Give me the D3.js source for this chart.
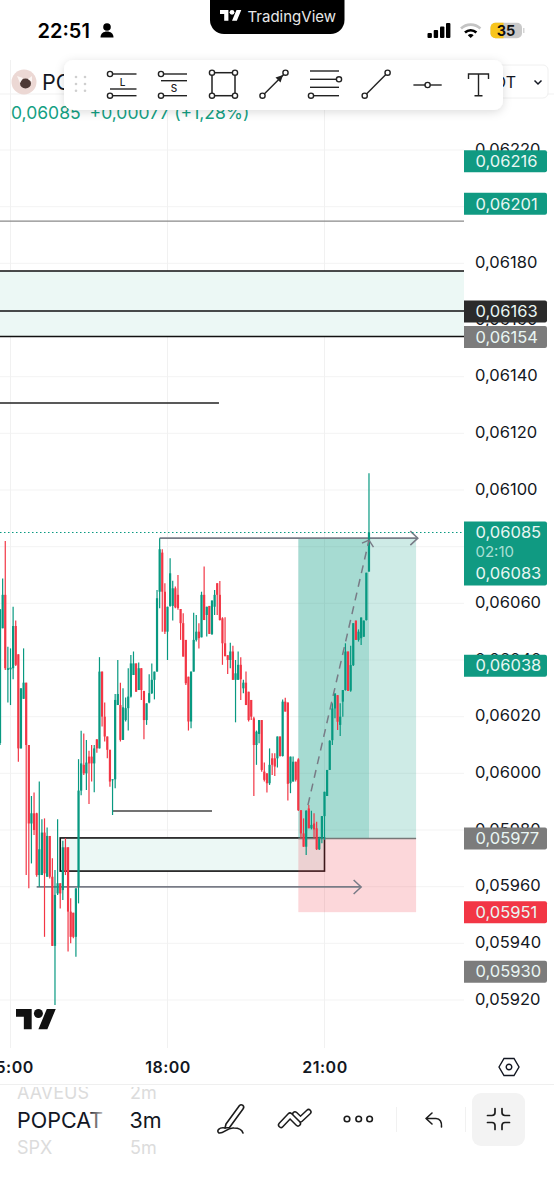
<!DOCTYPE html>
<html lang="en">

<head>
	<meta charset="utf-8">
	<title>POPCAT 3m</title>
	<script src="https://d3js.org/d3.v7.min.js"></script>
	<style>
		html, body { margin: 0; padding: 0; background: #fff; }
		svg { display: block; font-family: Inter, "Noto Sans", sans-serif; }
	</style>
</head>

<body>
	<div id="chart"></div>
	<script>
		// candles, price x 100000, first bar is 14:48, one bar every 3 minutes
		var opens = [
			6010, 6050.5, 6062.3, 6035.8, 6036, 6036.4, 6051.3, 6041.3, 6008.1, 6025.6,
			6031.3, 6009.3, 5981.6, 5985.2, 5985.2, 5963.4, 5963.4, 5978.4, 5962.8, 5977.2,
			5962.8, 5938.4, 5956.9, 5960.5, 5958.1, 5973.2, 5973.2, 5950.5, 5950.1, 5941.6,
			5959.3, 5993.2, 6002.3, 5999.3, 6005.2, 6005.2, 6002.8, 6011.3, 6008.1, 6035.2,
			6019.3, 6012.3, 6007.6, 5996.9, 5997.2, 6023.4, 6023.4, 6011.1, 6018.1, 6022.3,
			6026.4, 6034, 6038.1, 6028.7, 6036.4, 6028.4, 6018.1, 6024.3, 6027.6, 6032.3,
			6035.2, 6063.4, 6077.2, 6063.4, 6049.3, 6058.4, 6058.4, 6064.6, 6062.3, 6057.3,
			6052.3, 6046.4, 6033.4, 6017.6, 6035.2, 6046.4, 6049.3, 6047.3, 6062.3, 6055.2,
			6058.4, 6048.5, 6058.1, 6066.4, 6062.3, 6054, 6045.2, 6041, 6039.3, 6042.3,
			6032.3, 6032.3, 6037.6, 6029.3, 6031.3, 6028.1, 6025.2, 6018.7, 6009.3, 6013.2,
			6018.1, 5999.9, 5999.3, 5995.8, 6004.6, 6004.6, 6004.6, 6012.3, 6005.4, 6024.6,
			6024.3, 5995.8, 5996.4, 6003.4, 6004.2, 5986.3, 5978.1, 5973.4, 5986.9, 5979.9,
			5981.6, 5979.9, 5972.5, 5976.3, 5984.2, 5991.3, 6000.5, 6011, 6022.2, 6026.9,
			6016.4, 6024.6, 6028.7, 6042.3, 6028.5, 6037.5, 6053.2, 6046.4, 6047, 6047.5,
			6053.4, 6070.5
		];
		var highs = [
			6057.2, 6068.1, 6081.3, 6044, 6043.4, 6058.1, 6053.2, 6041.3, 6029.3, 6043.4,
			6031.3, 6009.3, 5991.3, 5992.5, 5985.4, 5996.4, 5983.1, 5983.4, 5980.2, 5977.2,
			5969.3, 5965.2, 5983.1, 5960.5, 5975.5, 5976.4, 5973.2, 5955.2, 5950.1, 5958.7,
			6004.3, 6014.3, 6013.4, 6011.1, 6007.3, 6009.3, 6009.3, 6011.3, 6040.3, 6035.2,
			6024.3, 6012.3, 6007.6, 5997.2, 6027.3, 6039.3, 6031.3, 6029.3, 6026.1, 6036.4,
			6041.1, 6042.3, 6038.1, 6038.4, 6036.4, 6028.4, 6024, 6034.3, 6038.1, 6035.2,
			6064, 6082.3, 6078.4, 6066.4, 6058.1, 6075.2, 6067.3, 6065.2, 6069.3, 6057.3,
			6055.8, 6046.4, 6033.4, 6035.2, 6056, 6055.2, 6052.3, 6063.4, 6072.3, 6058.1,
			6058.4, 6060.3, 6064, 6066.4, 6067.2, 6054.4, 6054.4, 6041, 6045.4, 6044.3,
			6039.3, 6042.3, 6040.3, 6032.3, 6035.2, 6028.1, 6025.2, 6019.3, 6014.4, 6018.1,
			6018.1, 6003.1, 5999.3, 6008.1, 6006.4, 6006.4, 6012.3, 6012.3, 6025.4, 6026,
			6024.3, 6005.2, 6005.2, 6003.4, 6004.6, 5986.3, 5983.4, 5986.3, 5988.1, 5986.1,
			5985.2, 5982.2, 5976.9, 5984.2, 5992.8, 6000.5, 6011, 6024, 6027.5, 6026.9,
			6024, 6028.7, 6045.2, 6042.3, 6044.3, 6052.3, 6053.2, 6050.1, 6054.3, 6053.2,
			6070.1, 6105.2
		];
		var lows = [
			6009.3, 6050.5, 6035.8, 6024.3, 6023.4, 6032.5, 6037.2, 6003.4, 6008.1, 6025.6,
			5963.4, 5958.7, 5967.5, 5977.5, 5962.8, 5959.3, 5963.4, 5941.6, 5962.8, 5962.2,
			5938.4, 5917.5, 5956.4, 5951.6, 5954.6, 5963.4, 5936.4, 5939.3, 5941.1, 5934.6,
			5953.4, 5991.6, 5998.7, 5993.4, 5988.5, 5996.4, 5992.6, 6006.6, 6008.1, 6015.8,
			6010.5, 6004.6, 5994.6, 5984.6, 5994, 6023.4, 6010.5, 6011.1, 6017.6, 6014.4,
			6026.1, 6034, 6028.1, 6028.7, 6025.2, 6011.3, 6016.4, 6024, 6027.3, 6025.4,
			6035.2, 6057.6, 6049.3, 6048.5, 6039.3, 6058.1, 6053.2, 6057.6, 6057, 6046.4,
			6040.5, 6030.5, 6014.4, 6015.2, 6035.2, 6045.8, 6043.4, 6047.3, 6053.4, 6047.6,
			6048.5, 6048.1, 6055.2, 6055.2, 6053.2, 6037.6, 6040.5, 6034.4, 6036.4, 6032.3,
			6017.3, 6032.3, 6025.2, 6027.6, 6023.4, 6017.6, 6018.1, 5991.3, 6002.3, 6009.9,
			5999.9, 5996.4, 5992.5, 5995.2, 5998.7, 5998.4, 6001.4, 6005.2, 6005.2, 6021.1,
			5989.7, 5992.3, 5996.4, 5996.4, 5986, 5976.3, 5973.4, 5970.5, 5979.9, 5979.5,
			5976.3, 5972.2, 5972.2, 5974.6, 5975.8, 5991.3, 6000.5, 6009.3, 6018.7, 6014.6,
			6012.5, 6019.3, 6028.5, 6028.4, 6028.1, 6037.2, 6046.4, 6045.8, 6044.6, 6047.5,
			6053.2, 6070.5
		];
		var closes = [
			6057.2, 6062.3, 6036.4, 6036.4, 6036.6, 6051.3, 6037.6, 6008.1, 6029.3, 6031.3,
			6009.3, 5981.6, 5985.2, 5979.3, 5963.4, 5972.5, 5978.4, 5964, 5977.2, 5962.8,
			5938.4, 5956.4, 5960.5, 5956.9, 5973.2, 5964.6, 5950.5, 5941.6, 5941.6, 5958.7,
			5993.2, 6002.8, 5999.3, 6003.1, 6002.8, 6002.8, 6008.1, 6008.1, 6035.2, 6019.3,
			6012.3, 6007.6, 5996.4, 5997.2, 6025.2, 6027.3, 6011.1, 6022.6, 6022.3, 6026.4,
			6038.1, 6038.1, 6028.1, 6036.4, 6028.7, 6018.1, 6024, 6027.6, 6032.3, 6035.2,
			6061.1, 6078.4, 6063.4, 6049.3, 6058.1, 6069.9, 6064.6, 6057.9, 6057.6, 6052.3,
			6040.5, 6031.1, 6017.6, 6035.2, 6046.4, 6049.3, 6047, 6062.3, 6053.4, 6058.1,
			6048.5, 6060.3, 6062.3, 6062.3, 6053.4, 6045.2, 6040.7, 6039.3, 6042.3, 6032.3,
			6034.6, 6037.6, 6032.5, 6031.3, 6023.4, 6018.1, 6019.3, 6009.3, 6014, 6018.1,
			6000.5, 5997, 5995.8, 6002.3, 6002.3, 6001.7, 6012.3, 6005.4, 6024.6, 6021.1,
			5995.6, 6005.2, 6003.4, 5997, 5986.3, 5978.1, 5973.4, 5986.1, 5979.9, 5981.1,
			5979.5, 5972.5, 5976.3, 5984.2, 5992.8, 6000.5, 6010.8, 6022.2, 6027.5, 6017.5,
			6019.3, 6028.7, 6042.3, 6028.4, 6037.5, 6052.3, 6046.4, 6049.3, 6054.3, 6053.2,
			6070.1, 6084.3
		];
		// read against the label centres, the grid sits 0.7 higher in price
		var readOffset = 0.7;

		var priceTicks = [0.0592, 0.0594, 0.0596, 0.0598, 0.0600, 0.0602, 0.0604, 0.0606, 0.0608, 0.0610,
			0.0612, 0.0614, 0.0616, 0.0618, 0.0620, 0.0622];
		var timeTicks = [[15, 0], [18, 0], [21, 0]];

		// price tags on the right
		var tagPrices = [0.06216, 0.06201, 0.06163, 0.06154, 0.06038, 0.05977, 0.05951, 0.05930];
		var tagColors = ["#109a82", "#109a82", "#2b2b2b", "#7c7c7c", "#109a82", "#7c7c7c", "#f23645", "#7c7c7c"];

		// drawings
		var lastPrice = 0.06085, targetPrice = 0.06083, entryPrice = 0.05977, stopPrice = 0.05951;
		var fullLines = [0.061949, 0.061773, 0.061632, 0.061542];
		var fullLineColors = ["#8a8a8a", "#111", "#111", "#111"];
		var bandPrices = [0.061773, 0.061542];
		var boxPrices = [0.059772, 0.059655];

		var width = 554, height = 1200, axisLeft = 464;
		var green = "#089981", red = "#f23645", gray = "#787b86", ink = "#131722";

		var t = function (h, m) { return new Date(2024, 0, 1, h, m); };
		var x = d3.scaleTime().domain([t(15, 0), t(21, 0)]).range([10.5, 324.5]);
		var y = d3.scaleLinear().domain([0.0592, 0.0622]).range([1000, 150]);
		var comma = d3.formatLocale({ decimal: ",", thousands: ".", grouping: [3], currency: ["", ""] }).format(".5f");

		var bars = opens.map(function (o, i) {
			return {
				time: new Date(t(14, 48).getTime() + i * 180000),
				open: (o + readOffset) / 1e5,
				high: (highs[i] + readOffset) / 1e5,
				low: (lows[i] + readOffset) / 1e5,
				close: (closes[i] + readOffset) / 1e5,
				up: closes[i] >= o
			};
		});

		var svg = d3.select("#chart").append("svg").attr("width", width).attr("height", height);
		var defs = svg.append("defs");
		var fade = defs.append("linearGradient").attr("id", "nameFade").attr("gradientUnits", "userSpaceOnUse")
			.attr("x1", 88).attr("x2", 104).attr("y1", 0).attr("y2", 0);
		fade.append("stop").attr("offset", 0).attr("stop-color", ink);
		fade.append("stop").attr("offset", 1).attr("stop-color", "#c8c8c8");
		var shadow = defs.append("filter").attr("id", "barShadow").attr("x", "-5%").attr("y", "-30%").attr("width", "110%").attr("height", "170%");
		shadow.append("feDropShadow").attr("dx", 0).attr("dy", 2).attr("stdDeviation", 5).attr("flood-color", "#000").attr("flood-opacity", 0.14);

		function line(g, x1, y1, x2, y2, color, w) {
			return g.append("line").attr("x1", x1).attr("y1", y1).attr("x2", x2).attr("y2", y2)
				.attr("stroke", color).attr("stroke-width", w);
		}
		function hline(g, from, to, price, color, w) {
			return line(g, x(from), y(price), x(to), y(price), color, w);
		}
		function ring(g, cx, cy, r, color, w) {
			return g.append("circle").attr("cx", cx).attr("cy", cy).attr("r", r).attr("fill", "#fff")
				.attr("stroke", color || "#222").attr("stroke-width", w || 1.4);
		}
		function zone(g, from, to, p1, p2, color, op) {
			return g.append("rect").attr("x", x(from)).attr("width", x(to) - x(from))
				.attr("y", y(p1)).attr("height", y(p2) - y(p1)).attr("fill", color).attr("fill-opacity", op);
		}
		function label(g, txt, lx, ly, size, color, weight, anchor) {
			return g.append("text").attr("x", lx).attr("y", ly).attr("dy", "0.35em").attr("font-size", size)
				.attr("fill", color).attr("font-weight", weight || 400).attr("text-anchor", anchor || "start").text(txt);
		}

		// grid
		var grid = svg.append("g");
		grid.selectAll(".h").data(priceTicks).enter().append("line")
			.attr("x1", 0).attr("x2", axisLeft).attr("y1", function (d) { return y(d); }).attr("y2", function (d) { return y(d); })
			.attr("stroke", "#f3f3f3");
		grid.selectAll(".v").data(timeTicks).enter().append("line")
			.attr("x1", function (d) { return x(t(d[0], d[1])); }).attr("x2", function (d) { return x(t(d[0], d[1])); })
			.attr("y1", 60).attr("y2", 1048).attr("stroke", "#f1f1f1");
		line(grid, 0, 94, 554, 94, "#f1f1f1", 1);

		// price axis, labels sit a little above their grid line
		var priceAxis = svg.append("g").attr("transform", "translate(" + (axisLeft + 11) + ",-1)")
			.call(d3.axisRight(y).tickValues(priceTicks).tickSize(0).tickPadding(0).tickFormat(comma));
		priceAxis.select(".domain").remove();
		priceAxis.selectAll("text").attr("font-family", "Inter").attr("font-size", 16.5).attr("fill", ink);

		// time axis
		var timeAxis = svg.append("g").attr("transform", "translate(0,1061.5)")
			.call(d3.axisBottom(x).tickValues(timeTicks.map(function (d) { return t(d[0], d[1]); }))
				.tickSize(0).tickPadding(0).tickFormat(d3.timeFormat("%H:%M")));
		timeAxis.select(".domain").remove();
		timeAxis.selectAll("text").attr("font-family", "Inter").attr("font-size", 16).attr("font-weight", 600)
			.attr("fill", ink).attr("letter-spacing", 0.5);
		line(svg, 0, 1084.5, 554, 1084.5, "#efefef", 1);

		// zone drawn before the candles
		var draw = svg.append("g");
		draw.append("rect").attr("x", 0).attr("width", axisLeft).attr("y", y(bandPrices[0]))
			.attr("height", y(bandPrices[1]) - y(bandPrices[0])).attr("fill", "#ecf8f5");
		fullLines.forEach(function (p, i) {
			line(draw, 0, y(p), axisLeft, y(p), fullLineColors[i], i === 0 ? 1.4 : 1.5);
		});
		hline(draw, t(14, 0), t(18, 59), 0.061307, "#222", 1.4);
		hline(draw, t(16, 57), t(18, 51), 0.059867, "#444", 1.4);

		draw.append("rect").attr("x", x(t(15, 57))).attr("width", x(t(21, 0)) - x(t(15, 57)))
			.attr("y", y(boxPrices[0])).attr("height", y(boxPrices[1]) - y(boxPrices[0]))
			.attr("fill", "#ecf8f5").attr("stroke", "#111").attr("stroke-width", 1.6);

		// long position
		zone(draw, t(20, 30), t(22, 45), targetPrice, entryPrice, green, 0.2);
		zone(draw, t(20, 30), t(21, 51), targetPrice, entryPrice, green, 0.2);
		zone(draw, t(20, 30), t(22, 45), entryPrice, stopPrice, red, 0.2);
		hline(draw, t(20, 30), t(22, 45), entryPrice, "#777", 1.3);

		// ray arrows
		function arrow(g, from, to, price) {
			hline(g, from, to, price, gray, 1.8);
			var tipX = x(to), tipY = y(price);
			g.append("path").attr("d", "M" + (tipX - 7.5) + "," + (tipY - 7) + "L" + tipX + "," + tipY + "L" + (tipX - 7.5) + "," + (tipY + 7))
				.attr("fill", "none").attr("stroke", gray).attr("stroke-width", 1.5);
		}
		arrow(draw, t(17, 51), t(22, 47), targetPrice);
		arrow(draw, t(15, 30), t(21, 42), 0.059599);

		// candles
		var candles = svg.append("g").selectAll("g").data(bars).enter().append("g");
		candles.append("line")
			.attr("x1", function (d) { return x(d.time); }).attr("x2", function (d) { return x(d.time); })
			.attr("y1", function (d) { return y(d.high); }).attr("y2", function (d) { return y(d.low); })
			.attr("stroke", function (d) { return d.up ? green : red; }).attr("stroke-width", 1.2);
		candles.append("rect")
			.attr("x", function (d) { return x(d.time) - 1.1; }).attr("width", 2.2)
			.attr("y", function (d) { return y(Math.max(d.open, d.close)); })
			.attr("height", function (d) { return Math.max(1, Math.abs(y(d.open) - y(d.close))); })
			.attr("fill", function (d) { return d.up ? green : red; });

		// dashed trend arrow
		var trendFrom = [t(20, 41), 0.059888], trendTo = [t(21, 51), 0.060823];
		line(svg, x(trendFrom[0]), y(trendFrom[1]), x(trendTo[0]), y(trendTo[1]), gray, 1.5).attr("stroke-dasharray", "8 6");
		var tx = x(trendTo[0]), ty = y(trendTo[1]);
		svg.append("path").attr("d", "M" + (tx - 7) + "," + (ty + 3) + "L" + tx + "," + ty + "L" + (tx + 4.5) + "," + (ty + 7))
			.attr("fill", "none").attr("stroke", gray).attr("stroke-width", 1.4);

		// last price line
		line(svg, 0, y(lastPrice), axisLeft, y(lastPrice), green, 1).attr("stroke-dasharray", "1.5 2.5");

		// tags
		var tags = svg.append("g");
		function tag(top, h, color) {
			tags.append("path").attr("fill", color)
				.attr("d", "M" + axisLeft + "," + top + "h81a2,2 0 0 1 2,2v" + (h - 4) + "a2,2 0 0 1 -2,2h-81z");
		}
		tagPrices.forEach(function (p, i) {
			tag(y(p) - 11, 22, tagColors[i]);
			label(tags, comma(p), 475.5, y(p), 16.5, "#e9f6f3");
		});
		tag(y(lastPrice) - 11, 64, "#109a82");
		label(tags, comma(lastPrice), 475.5, y(lastPrice), 16.5, "#e9f6f3");
		label(tags, "02:10", 475.5, y(lastPrice) + 19, 15, "#a9dfd4");
		label(tags, comma(targetPrice), 475.5, y(lastPrice) + 41, 16.5, "#e9f6f3");

		// tradingview logo
		var logoPath = "M14 22H7V11H0V4h14v18zM28 22h-8l7.5-18h8L28 22z";
		var logo = svg.append("g").attr("transform", "translate(16,1004.5) scale(1.12)");
		logo.append("path").attr("d", logoPath).attr("fill", "#111");
		logo.append("circle").attr("cx", 20).attr("cy", 8).attr("r", 4).attr("fill", "#111");

		// settings hexagon
		var hex = svg.append("g").attr("transform", "translate(509,1067)");
		hex.append("path").attr("d", "M-10,0L-5,-8.5H5L10,0L5,8.5H-5Z").attr("fill", "none").attr("stroke", ink).attr("stroke-width", 1.4);
		hex.append("circle").attr("r", 2.8).attr("fill", "none").attr("stroke", ink).attr("stroke-width", 1.4);

		// symbol header
		svg.append("rect").attr("x", 0).attr("y", 40).attr("width", width).attr("height", 20).attr("fill", "#fff");
		svg.append("circle").attr("cx", 24).attr("cy", 82).attr("r", 12.5).attr("fill", "#ecd8d4");
		svg.append("ellipse").attr("cx", 25.5).attr("cy", 83.5).attr("rx", 5.5).attr("ry", 5).attr("fill", "#4e3a36");
		svg.append("path").attr("d", "M17,76l6,2l-3,5zM32,76l0,6l-4,-3z").attr("fill", "#fbf5f3");
		label(svg, "POPCAT", 42, 82, 21.5, ink);
		svg.append("rect").attr("x", 470).attr("y", 65).attr("width", 78).attr("height", 33).attr("rx", 5)
			.attr("fill", "#fff").attr("stroke", "#f0f0f0");
		label(svg, "USDT", 516, 82, 16, ink, 400, "end");
		svg.append("path").attr("d", "M534.5,80.5l3.5,3.5l3.5,-3.5").attr("fill", "none").attr("stroke", ink).attr("stroke-width", 1.5);
		var change = svg.append("text").attr("x", 11).attr("y", 113).attr("dy", "0.35em").attr("font-size", 17.5).attr("fill", "#14a083");
		change.append("tspan").text("0,06085");
		change.append("tspan").attr("dx", 9).text("+0,00077 (+1,28%)");

		// floating drawing toolbar
		var bar = svg.append("g");
		bar.append("rect").attr("x", 64).attr("y", 60).attr("width", 439).attr("height", 50).attr("rx", 9)
			.attr("fill", "#fff").attr("filter", "url(#barShadow)");
		[76, 85].forEach(function (dx) {
			[77, 84, 90.7].forEach(function (dy) {
				bar.append("circle").attr("cx", dx).attr("cy", dy).attr("r", 1.3).attr("fill", "#cfcfcf");
			});
		});
		var stroke = "#222";
		// long position icon
		line(bar, 110, 74, 136.5, 74, stroke, 1.4); line(bar, 110, 89, 136.5, 89, stroke, 1.4); line(bar, 110, 95.7, 136.5, 95.7, stroke, 1.4);
		ring(bar, 110, 74, 2.6); ring(bar, 110, 95.7, 2.6);
		label(bar, "L", 122.7, 82, 10, stroke, 500, "middle");
		// short position icon
		line(bar, 161, 74, 187, 74, stroke, 1.4); line(bar, 161, 80.7, 187, 80.7, stroke, 1.4); line(bar, 161, 95.7, 187, 95.7, stroke, 1.4);
		ring(bar, 161, 74, 2.6); ring(bar, 161, 95.7, 2.6);
		label(bar, "S", 174, 88.3, 10, stroke, 500, "middle");
		// rectangle icon
		bar.append("rect").attr("x", 212).attr("y", 72.7).attr("width", 23).attr("height", 23).attr("fill", "none").attr("stroke", stroke).attr("stroke-width", 1.5);
		[[212, 72.7], [235, 72.7], [212, 95.7], [235, 95.7]].forEach(function (c) { ring(bar, c[0], c[1], 2.6); });
		// arrow icon
		line(bar, 262.5, 95.7, 285.5, 72.7, stroke, 1.4);
		bar.append("path").attr("d", "M283,75L275.5,77.5L280.5,82.5Z").attr("fill", stroke);
		ring(bar, 262.5, 95.7, 2.6); ring(bar, 285.5, 72.7, 2.6);
		// parallel channel icon
		[71, 79.3, 87.3, 95.7].forEach(function (ly) { line(bar, 310, ly, 339, ly, stroke, 1.4); });
		ring(bar, 339, 79.3, 2.6); ring(bar, 311, 95.7, 2.6);
		// trend line icon
		line(bar, 364.7, 95.7, 387.6, 72.7, stroke, 1.4);
		ring(bar, 364.7, 95.7, 2.6); ring(bar, 387.6, 72.7, 2.6);
		// horizontal ray icon
		line(bar, 413.4, 85, 441.7, 85, stroke, 1.4);
		ring(bar, 427.6, 85, 2.6);
		// text icon
		bar.append("path").attr("d", "M468.5,79V74H488.5V79M478.5,74V95.7M474.5,95.7H482.5").attr("fill", "none").attr("stroke", stroke).attr("stroke-width", 1.4);

		// status bar
		svg.append("path").attr("d", "M210,0H344.5V20a14,14 0 0 1 -14,14H224a14,14 0 0 1 -14,-14Z").attr("fill", "#000");
		var notchLogo = svg.append("g").attr("transform", "translate(220,7.5) scale(0.6)");
		notchLogo.append("path").attr("d", logoPath).attr("fill", "#fff");
		notchLogo.append("circle").attr("cx", 20).attr("cy", 8).attr("r", 4).attr("fill", "#fff");
		label(svg, "TradingView", 247.5, 16.5, 15, "#e8e8e8");
		label(svg, "22:51", 37.5, 31, 20, "#000", 600);
		svg.append("circle").attr("cx", 107).attr("cy", 27).attr("r", 3.8).attr("fill", "#000");
		svg.append("path").attr("d", "M100.5,37.5c0,-4 3,-6 6.5,-6s6.5,2 6.5,6z").attr("fill", "#000");
		[[427.5, 5], [433.7, 8], [440, 11.5], [446, 15]].forEach(function (s) {
			svg.append("rect").attr("x", s[0]).attr("y", 38 - s[1]).attr("width", 4.4).attr("height", s[1]).attr("rx", 1).attr("fill", "#000");
		});
		svg.append("path").attr("d", "M461,28.5a14,14 0 0 1 19.4,0").attr("fill", "none").attr("stroke", "#c4c4c4").attr("stroke-width", 2.6);
		svg.append("path").attr("d", "M465,32.5a8.5,8.5 0 0 1 11.4,0").attr("fill", "none").attr("stroke", "#000").attr("stroke-width", 2.6);
		svg.append("path").attr("d", "M467.8,35.2l2.9,2.8l2.9,-2.8a4,4 0 0 0 -5.8,0z").attr("fill", "#000");
		svg.append("rect").attr("x", 490.5).attr("y", 22.7).attr("width", 31.5).attr("height", 15.6).attr("rx", 5).attr("fill", "#c9c9c9");
		svg.append("path").attr("d", "M503.5,22.7H495.5a5,5 0 0 0 -5,5V33.3a5,5 0 0 0 5,5H503.5Z").attr("fill", "#f8c51d");
		label(svg, "35", 506, 30.5, 14.5, "#111", 700, "middle");
		svg.append("rect").attr("x", 523).attr("y", 28).attr("width", 1.5).attr("height", 5).attr("fill", "#d5d5d5");

		// symbol / interval pickers
		label(svg, "AAVEUS", 17, 1093, 18, "#dcdcdc");
		label(svg, "2m", 130, 1093, 18, "#dcdcdc");
		label(svg, "POPCAT", 17, 1120, 21.5, "url(#nameFade)");
		label(svg, "3m", 129.5, 1120, 21.5, ink);
		label(svg, "SPX", 17, 1148, 18, "#dcdcdc");
		label(svg, "5m", 130, 1148, 18, "#dcdcdc");
		svg.append("rect").attr("x", 0).attr("y", 1085).attr("width", 165).attr("height", 2).attr("fill", "#fff");

		// bottom toolbar
		var tool = svg.append("g").attr("fill", "none").attr("stroke", "#1c1c1c").attr("stroke-width", 1.6)
			.attr("stroke-linejoin", "round").attr("stroke-linecap", "round");
		tool.append("path").attr("d", "M226,1124L239.5,1105.5Q241,1104 243,1105.5Q244.5,1107 243,1109L229.5,1127.5L225,1128Z");
		tool.append("path").attr("d", "M225,1128C219,1127 216,1131 219,1133C224,1134 227,1127 234,1128C239,1128 242,1130 243,1133");
		// outlined chevrons: a wide dark stroke with a white one on top
		var chevrons = ["M295,1114.3L300.5,1119.5L308.5,1112", "M281,1125L290,1115.5L298,1123.5"];
		chevrons.forEach(function (d) {
			tool.append("path").attr("d", d).attr("stroke-width", 6.4);
			tool.append("path").attr("d", d).attr("stroke", "#fff").attr("stroke-width", 3.4);
		});
		[347, 358.7, 369.6].forEach(function (cx) {
			tool.append("circle").attr("cx", cx).attr("cy", 1119).attr("r", 2.8);
		});
		line(svg, 396.5, 1107, 396.5, 1132, "#f1f1f1", 1);
		line(svg, 465.5, 1107, 465.5, 1132, "#f1f1f1", 1);
		tool.append("path").attr("d", "M432,1113L426,1118.5L432,1124M426,1118.5H436C440,1118.5 442,1122 441.5,1127");
		svg.append("rect").attr("x", 472).attr("y", 1093).attr("width", 53).attr("height", 53).attr("rx", 9).attr("fill", "#f3f3f3");
		var shrink = svg.append("g").attr("transform", "translate(498.5,1119)").attr("fill", "none").attr("stroke", "#1c1c1c")
			.attr("stroke-width", 1.7).attr("stroke-linecap", "round");
		shrink.append("path").attr("d", "M-11,-3.5H-6.5Q-3.5,-3.5 -3.5,-6.5V-10.5M11,-3.5H6.5Q3.5,-3.5 3.5,-6.5V-10.5M-11,3.5H-6.5Q-3.5,3.5 -3.5,6.5V10.5M11,3.5H6.5Q3.5,3.5 3.5,6.5V10.5");
	</script>
</body>

</html>
